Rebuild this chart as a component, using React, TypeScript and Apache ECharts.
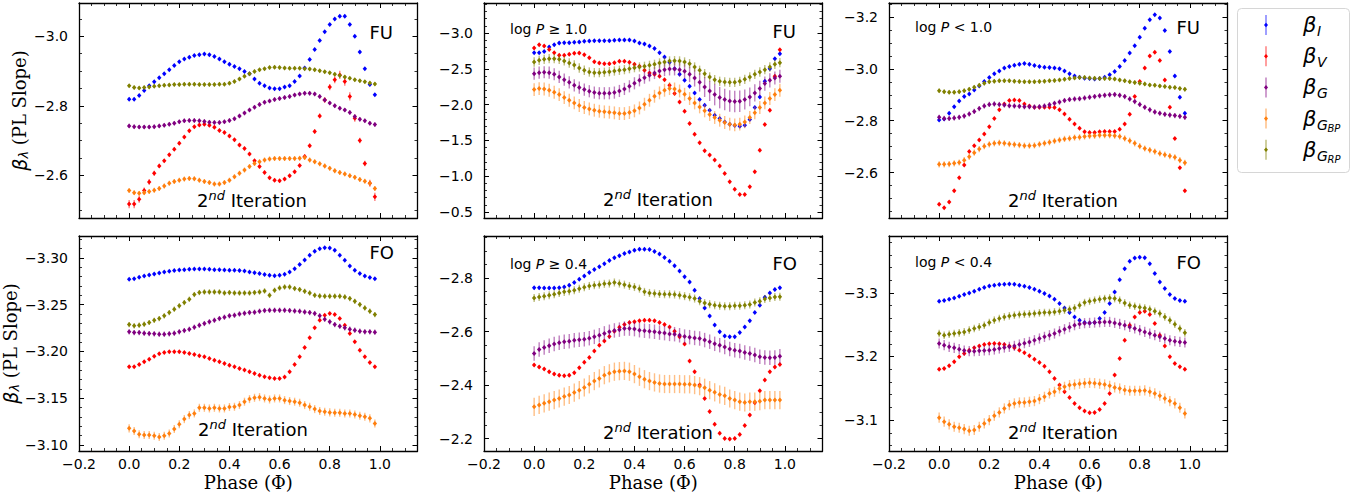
import React, { useEffect, useRef } from 'react';
import * as echarts from 'echarts';

// ---------------- data ----------------
const phase = [0, 0.02, 0.04, 0.06, 0.08, 0.1, 0.12, 0.14, 0.16, 0.18, 0.2, 0.22, 0.24, 0.26, 0.28, 0.3, 0.32, 0.34, 0.36, 0.38, 0.4, 0.42, 0.44, 0.46, 0.48, 0.5, 0.52, 0.54, 0.56, 0.58, 0.6, 0.62, 0.64, 0.66, 0.68, 0.7, 0.72, 0.74, 0.76, 0.78, 0.8, 0.82, 0.84, 0.86, 0.88, 0.9, 0.92, 0.94, 0.96, 0.98];

const seriesNames = ['β_I', 'β_V', 'β_G', 'β_G_BP', 'β_G_RP'];
const seriesColors = ['#0000ff', '#ff0000', '#800080', '#ff7f0e', '#808000'];
const legendSub = ['I', 'V', 'G', 'G', 'G'];
const legendSubSub = ['', '', '', 'BP', 'RP'];

// FU, all periods
const fuAllI = [-2.819, -2.819, -2.830, -2.844, -2.858, -2.869, -2.881, -2.892, -2.904, -2.916, -2.927, -2.935, -2.940, -2.945, -2.947, -2.949, -2.947, -2.942, -2.935, -2.927, -2.920, -2.913, -2.907, -2.899, -2.892, -2.877, -2.865, -2.858, -2.851, -2.849, -2.849, -2.854, -2.858, -2.870, -2.886, -2.909, -2.933, -2.962, -2.988, -3.013, -3.034, -3.050, -3.058, -3.058, -3.034, -3.000, -2.955, -2.907, -2.861, -2.832];
const fuAllV = [-2.517, -2.517, -2.531, -2.556, -2.581, -2.606, -2.627, -2.642, -2.659, -2.675, -2.692, -2.710, -2.728, -2.740, -2.745, -2.747, -2.744, -2.738, -2.729, -2.723, -2.713, -2.702, -2.687, -2.677, -2.661, -2.642, -2.625, -2.608, -2.593, -2.586, -2.584, -2.589, -2.599, -2.610, -2.628, -2.654, -2.685, -2.726, -2.771, -2.817, -2.854, -2.875, -2.889, -2.870, -2.827, -2.764, -2.700, -2.634, -2.577, -2.538];
const fuAllG = [-2.742, -2.740, -2.739, -2.739, -2.739, -2.740, -2.742, -2.744, -2.747, -2.750, -2.754, -2.757, -2.758, -2.758, -2.757, -2.755, -2.753, -2.752, -2.752, -2.754, -2.758, -2.763, -2.771, -2.779, -2.788, -2.796, -2.804, -2.810, -2.814, -2.818, -2.821, -2.824, -2.827, -2.831, -2.834, -2.836, -2.836, -2.834, -2.827, -2.817, -2.808, -2.800, -2.793, -2.788, -2.781, -2.769, -2.761, -2.757, -2.750, -2.746];
const fuAllBP = [-2.556, -2.550, -2.548, -2.550, -2.553, -2.557, -2.562, -2.569, -2.577, -2.582, -2.586, -2.589, -2.591, -2.590, -2.586, -2.582, -2.579, -2.575, -2.575, -2.579, -2.586, -2.596, -2.606, -2.615, -2.625, -2.634, -2.639, -2.644, -2.647, -2.648, -2.648, -2.648, -2.648, -2.648, -2.649, -2.651, -2.644, -2.639, -2.633, -2.627, -2.620, -2.613, -2.608, -2.604, -2.599, -2.594, -2.588, -2.583, -2.577, -2.562];
const fuAllRP = [-2.858, -2.853, -2.851, -2.853, -2.854, -2.856, -2.858, -2.859, -2.860, -2.861, -2.861, -2.862, -2.862, -2.862, -2.861, -2.861, -2.861, -2.861, -2.862, -2.862, -2.865, -2.870, -2.877, -2.885, -2.892, -2.899, -2.904, -2.907, -2.910, -2.911, -2.910, -2.909, -2.908, -2.908, -2.908, -2.907, -2.906, -2.904, -2.901, -2.898, -2.895, -2.891, -2.887, -2.883, -2.879, -2.875, -2.872, -2.869, -2.866, -2.863];
const fuAllVErr = [0.012, 0.012, 0.010, 0.009, 0.008, 0.007, 0.006, 0.005, 0.005, 0.005, 0.005, 0.005, 0.005, 0.005, 0.005, 0.005, 0.005, 0.005, 0.005, 0.005, 0.005, 0.005, 0.005, 0.005, 0.005, 0.005, 0.005, 0.005, 0.005, 0.005, 0.005, 0.005, 0.005, 0.005, 0.005, 0.006, 0.006, 0.006, 0.007, 0.008, 0.009, 0.010, 0.012, 0.012, 0.012, 0.010, 0.008, 0.008, 0.010, 0.012];
const fuAllErr: (number | number[])[] = [0.004, fuAllVErr, 0.006, 0.007, 0.005];

// FU, log P >= 1.0
const fuLongI = [-2.726, -2.726, -2.744, -2.805, -2.837, -2.861, -2.865, -2.865, -2.870, -2.875, -2.884, -2.888, -2.893, -2.893, -2.893, -2.893, -2.898, -2.902, -2.902, -2.902, -2.888, -2.861, -2.847, -2.819, -2.784, -2.726, -2.665, -2.591, -2.503, -2.424, -2.340, -2.256, -2.164, -2.071, -1.992, -1.922, -1.852, -1.806, -1.759, -1.727, -1.708, -1.699, -1.713, -1.792, -1.959, -2.108, -2.326, -2.503, -2.642, -2.712];
const fuLongV = [-2.791, -2.837, -2.819, -2.772, -2.726, -2.689, -2.689, -2.703, -2.717, -2.721, -2.698, -2.656, -2.600, -2.582, -2.572, -2.572, -2.586, -2.605, -2.605, -2.591, -2.563, -2.535, -2.480, -2.442, -2.424, -2.396, -2.349, -2.270, -2.154, -2.038, -1.908, -1.736, -1.587, -1.467, -1.355, -1.295, -1.225, -1.141, -1.039, -0.923, -0.816, -0.746, -0.746, -0.853, -1.062, -1.364, -1.722, -1.922, -2.396, -2.768];
const fuLongG = [-2.433, -2.447, -2.452, -2.447, -2.424, -2.387, -2.349, -2.312, -2.270, -2.238, -2.210, -2.187, -2.168, -2.159, -2.159, -2.159, -2.168, -2.191, -2.219, -2.256, -2.298, -2.340, -2.377, -2.410, -2.442, -2.470, -2.489, -2.498, -2.498, -2.489, -2.466, -2.424, -2.373, -2.312, -2.247, -2.191, -2.140, -2.098, -2.071, -2.052, -2.043, -2.047, -2.071, -2.108, -2.164, -2.224, -2.294, -2.340, -2.373, -2.396];
const fuLongBP = [-2.210, -2.224, -2.219, -2.201, -2.173, -2.140, -2.098, -2.061, -2.024, -1.987, -1.959, -1.940, -1.922, -1.908, -1.899, -1.894, -1.885, -1.875, -1.875, -1.889, -1.913, -1.954, -2.006, -2.061, -2.117, -2.164, -2.201, -2.224, -2.219, -2.191, -2.145, -2.085, -2.024, -1.968, -1.913, -1.862, -1.820, -1.782, -1.750, -1.727, -1.717, -1.727, -1.759, -1.820, -1.885, -1.959, -2.024, -2.085, -2.140, -2.201];
const fuLongRP = [-2.596, -2.619, -2.633, -2.642, -2.642, -2.633, -2.610, -2.582, -2.554, -2.512, -2.480, -2.456, -2.447, -2.447, -2.452, -2.461, -2.470, -2.480, -2.489, -2.503, -2.517, -2.526, -2.535, -2.549, -2.563, -2.582, -2.596, -2.610, -2.614, -2.610, -2.596, -2.572, -2.526, -2.480, -2.433, -2.387, -2.349, -2.326, -2.317, -2.312, -2.312, -2.326, -2.354, -2.387, -2.424, -2.456, -2.489, -2.526, -2.563, -2.586];
const fuLongGErr = [0.085, 0.085, 0.085, 0.085, 0.085, 0.085, 0.085, 0.085, 0.085, 0.085, 0.085, 0.085, 0.085, 0.085, 0.085, 0.085, 0.085, 0.085, 0.085, 0.085, 0.085, 0.085, 0.085, 0.085, 0.085, 0.085, 0.09, 0.09, 0.09, 0.095, 0.10, 0.11, 0.12, 0.13, 0.14, 0.14, 0.15, 0.15, 0.15, 0.15, 0.15, 0.15, 0.14, 0.13, 0.12, 0.11, 0.10, 0.10, 0.09, 0.09];
const fuLongErr: (number | number[])[] = [0.02, 0.02, fuLongGErr, 0.09, 0.065];

// FU, log P < 1.0
const fuShortI = [-2.803, -2.807, -2.829, -2.854, -2.876, -2.893, -2.903, -2.919, -2.934, -2.951, -2.967, -2.981, -2.992, -3.003, -3.009, -3.014, -3.018, -3.021, -3.018, -3.013, -3.009, -3.006, -3.005, -3.003, -3.000, -2.992, -2.981, -2.973, -2.968, -2.964, -2.963, -2.961, -2.963, -2.968, -2.977, -2.990, -3.009, -3.032, -3.061, -3.089, -3.122, -3.157, -3.189, -3.209, -3.196, -3.148, -3.067, -2.973, -2.891, -2.829];
const fuShortV = [-2.478, -2.465, -2.487, -2.530, -2.580, -2.629, -2.681, -2.704, -2.726, -2.749, -2.777, -2.809, -2.842, -2.865, -2.878, -2.880, -2.878, -2.865, -2.857, -2.852, -2.852, -2.852, -2.852, -2.851, -2.842, -2.826, -2.806, -2.787, -2.771, -2.758, -2.755, -2.755, -2.758, -2.759, -2.759, -2.759, -2.767, -2.787, -2.825, -2.893, -2.951, -3.003, -3.050, -3.064, -3.032, -2.957, -2.852, -2.732, -2.619, -2.530];
const fuShortG = [-2.813, -2.809, -2.809, -2.811, -2.813, -2.818, -2.826, -2.836, -2.847, -2.857, -2.863, -2.865, -2.863, -2.861, -2.858, -2.857, -2.856, -2.854, -2.854, -2.853, -2.854, -2.857, -2.862, -2.867, -2.872, -2.878, -2.882, -2.884, -2.885, -2.888, -2.891, -2.893, -2.896, -2.898, -2.900, -2.901, -2.898, -2.893, -2.884, -2.874, -2.863, -2.852, -2.842, -2.834, -2.829, -2.825, -2.822, -2.820, -2.817, -2.813];
const fuShortBP = [-2.632, -2.632, -2.633, -2.636, -2.639, -2.648, -2.661, -2.677, -2.691, -2.702, -2.709, -2.713, -2.715, -2.713, -2.710, -2.708, -2.706, -2.704, -2.704, -2.705, -2.709, -2.713, -2.717, -2.722, -2.726, -2.730, -2.732, -2.735, -2.736, -2.739, -2.741, -2.742, -2.744, -2.744, -2.744, -2.742, -2.739, -2.732, -2.723, -2.713, -2.702, -2.693, -2.687, -2.681, -2.674, -2.669, -2.664, -2.659, -2.648, -2.638];
const fuShortRP = [-2.916, -2.912, -2.910, -2.910, -2.912, -2.916, -2.921, -2.929, -2.937, -2.945, -2.950, -2.952, -2.954, -2.954, -2.954, -2.952, -2.951, -2.950, -2.950, -2.950, -2.951, -2.952, -2.954, -2.955, -2.957, -2.960, -2.963, -2.965, -2.967, -2.967, -2.965, -2.964, -2.963, -2.963, -2.963, -2.961, -2.957, -2.954, -2.950, -2.947, -2.945, -2.942, -2.938, -2.937, -2.934, -2.932, -2.929, -2.928, -2.924, -2.921];
const fuShortErr: (number | number[])[] = [0.005, 0.005, 0.010, 0.012, 0.008];

// FO, all periods
const foAllI = [-3.2772, -3.2779, -3.2794, -3.2808, -3.2819, -3.2829, -3.2840, -3.2851, -3.2858, -3.2865, -3.2872, -3.2875, -3.2879, -3.2883, -3.2883, -3.2883, -3.2879, -3.2875, -3.2875, -3.2872, -3.2868, -3.2868, -3.2865, -3.2861, -3.2851, -3.2843, -3.2833, -3.2822, -3.2815, -3.2811, -3.2815, -3.2826, -3.2851, -3.2886, -3.2929, -3.2979, -3.3028, -3.3071, -3.3100, -3.3110, -3.3107, -3.3082, -3.3028, -3.2975, -3.2915, -3.2868, -3.2833, -3.2808, -3.2790, -3.2779];
const foAllV = [-3.1836, -3.1836, -3.1861, -3.1890, -3.1918, -3.1950, -3.1975, -3.1989, -3.1996, -3.1996, -3.1996, -3.1989, -3.1979, -3.1968, -3.1954, -3.1943, -3.1925, -3.1907, -3.1890, -3.1872, -3.1854, -3.1836, -3.1818, -3.1801, -3.1783, -3.1765, -3.1747, -3.1729, -3.1719, -3.1712, -3.1712, -3.1726, -3.1783, -3.1861, -3.1943, -3.2043, -3.2146, -3.2253, -3.2334, -3.2388, -3.2406, -3.2395, -3.2352, -3.2281, -3.2192, -3.2103, -3.2014, -3.1943, -3.1882, -3.1836];
const foAllG = [-3.2210, -3.2203, -3.2203, -3.2196, -3.2192, -3.2189, -3.2185, -3.2185, -3.2189, -3.2196, -3.2210, -3.2224, -3.2238, -3.2260, -3.2281, -3.2299, -3.2317, -3.2334, -3.2352, -3.2367, -3.2381, -3.2388, -3.2402, -3.2409, -3.2416, -3.2420, -3.2431, -3.2438, -3.2441, -3.2441, -3.2441, -3.2441, -3.2438, -3.2434, -3.2431, -3.2423, -3.2416, -3.2406, -3.2381, -3.2345, -3.2317, -3.2288, -3.2270, -3.2253, -3.2238, -3.2228, -3.2217, -3.2210, -3.2210, -3.2206];
const foAllBP = [-3.1178, -3.1149, -3.1114, -3.1107, -3.1107, -3.1099, -3.1085, -3.1099, -3.1124, -3.1171, -3.1221, -3.1277, -3.1320, -3.1338, -3.1398, -3.1398, -3.1391, -3.1398, -3.1391, -3.1391, -3.1406, -3.1409, -3.1427, -3.1463, -3.1491, -3.1505, -3.1512, -3.1498, -3.1487, -3.1498, -3.1498, -3.1480, -3.1470, -3.1463, -3.1452, -3.1427, -3.1409, -3.1384, -3.1363, -3.1356, -3.1349, -3.1345, -3.1345, -3.1338, -3.1338, -3.1327, -3.1313, -3.1302, -3.1285, -3.1231];
const foAllRP = [-3.2288, -3.2274, -3.2281, -3.2292, -3.2310, -3.2334, -3.2352, -3.2381, -3.2416, -3.2452, -3.2488, -3.2523, -3.2559, -3.2609, -3.2630, -3.2637, -3.2637, -3.2637, -3.2637, -3.2626, -3.2630, -3.2626, -3.2626, -3.2626, -3.2626, -3.2630, -3.2637, -3.2648, -3.2601, -3.2655, -3.2680, -3.2690, -3.2690, -3.2673, -3.2662, -3.2644, -3.2626, -3.2601, -3.2594, -3.2591, -3.2591, -3.2591, -3.2591, -3.2584, -3.2566, -3.2537, -3.2502, -3.2466, -3.2431, -3.2395];
const foAllErr: (number | number[])[] = [0.001, 0.001, 0.0028, 0.0043, 0.0028];

// FO, log P >= 0.4
const foLongI = [-2.763, -2.763, -2.762, -2.762, -2.762, -2.763, -2.766, -2.773, -2.783, -2.795, -2.807, -2.820, -2.831, -2.842, -2.853, -2.865, -2.875, -2.883, -2.891, -2.897, -2.903, -2.907, -2.907, -2.906, -2.899, -2.889, -2.876, -2.862, -2.845, -2.826, -2.804, -2.785, -2.754, -2.723, -2.688, -2.658, -2.624, -2.599, -2.583, -2.580, -2.580, -2.596, -2.617, -2.640, -2.671, -2.698, -2.728, -2.744, -2.757, -2.763];
const foLongV = [-2.475, -2.468, -2.460, -2.450, -2.441, -2.437, -2.435, -2.437, -2.446, -2.465, -2.485, -2.503, -2.527, -2.549, -2.565, -2.581, -2.601, -2.616, -2.626, -2.634, -2.636, -2.640, -2.642, -2.642, -2.640, -2.634, -2.626, -2.617, -2.601, -2.580, -2.553, -2.490, -2.450, -2.400, -2.350, -2.301, -2.254, -2.220, -2.201, -2.199, -2.201, -2.216, -2.249, -2.288, -2.334, -2.379, -2.419, -2.450, -2.468, -2.477];
const foLongG = [-2.518, -2.533, -2.540, -2.547, -2.553, -2.558, -2.562, -2.564, -2.567, -2.569, -2.571, -2.575, -2.580, -2.586, -2.593, -2.599, -2.604, -2.607, -2.611, -2.611, -2.609, -2.605, -2.603, -2.601, -2.599, -2.596, -2.594, -2.591, -2.590, -2.586, -2.581, -2.579, -2.576, -2.574, -2.568, -2.562, -2.554, -2.549, -2.542, -2.535, -2.530, -2.527, -2.522, -2.518, -2.512, -2.506, -2.503, -2.502, -2.503, -2.508];
const foLongBP = [-2.319, -2.326, -2.332, -2.338, -2.344, -2.350, -2.357, -2.363, -2.372, -2.381, -2.391, -2.403, -2.415, -2.425, -2.437, -2.444, -2.450, -2.452, -2.453, -2.450, -2.441, -2.431, -2.422, -2.415, -2.410, -2.406, -2.404, -2.404, -2.404, -2.404, -2.403, -2.403, -2.400, -2.396, -2.390, -2.381, -2.373, -2.365, -2.360, -2.350, -2.344, -2.338, -2.335, -2.338, -2.338, -2.340, -2.344, -2.344, -2.344, -2.344];
const foLongRP = [-2.725, -2.729, -2.732, -2.735, -2.739, -2.744, -2.748, -2.750, -2.754, -2.760, -2.765, -2.770, -2.773, -2.775, -2.778, -2.779, -2.783, -2.779, -2.775, -2.770, -2.766, -2.760, -2.748, -2.744, -2.742, -2.740, -2.739, -2.739, -2.738, -2.735, -2.732, -2.728, -2.723, -2.713, -2.706, -2.702, -2.698, -2.696, -2.694, -2.694, -2.696, -2.696, -2.698, -2.701, -2.708, -2.713, -2.721, -2.725, -2.729, -2.730];
const foLongErr: (number | number[])[] = [0.006, 0.006, 0.027, 0.034, 0.015];

// FO, log P < 0.4
const foShortI = [-3.2869, -3.2880, -3.2901, -3.2921, -3.2948, -3.2974, -3.3000, -3.3026, -3.3058, -3.3084, -3.3110, -3.3120, -3.3131, -3.3136, -3.3141, -3.3136, -3.3120, -3.3105, -3.3084, -3.3058, -3.3026, -3.2990, -3.2953, -3.2901, -3.2832, -3.2764, -3.2691, -3.2623, -3.2571, -3.2534, -3.2529, -3.2534, -3.2597, -3.2691, -3.2832, -3.3016, -3.3209, -3.3382, -3.3497, -3.3550, -3.3560, -3.3555, -3.3461, -3.3304, -3.3173, -3.3068, -3.2974, -3.2911, -3.2880, -3.2869];
const foShortV = [-3.1801, -3.1811, -3.1853, -3.1916, -3.1995, -3.2047, -3.2099, -3.2136, -3.2167, -3.2188, -3.2199, -3.2204, -3.2199, -3.2188, -3.2167, -3.2136, -3.2099, -3.2058, -3.2010, -3.1958, -3.1906, -3.1848, -3.1759, -3.1654, -3.1550, -3.1445, -3.1356, -3.1262, -3.1194, -3.1141, -3.1115, -3.1120, -3.1167, -3.1262, -3.1419, -3.1707, -3.1968, -3.2256, -3.2492, -3.2623, -3.2691, -3.2712, -3.2660, -3.2518, -3.2335, -3.2167, -3.1995, -3.1890, -3.1838, -3.1801];
const foShortG = [-3.2204, -3.2178, -3.2152, -3.2136, -3.2115, -3.2094, -3.2084, -3.2084, -3.2089, -3.2094, -3.2099, -3.2110, -3.2126, -3.2141, -3.2152, -3.2167, -3.2188, -3.2209, -3.2230, -3.2256, -3.2283, -3.2309, -3.2335, -3.2361, -3.2398, -3.2429, -3.2461, -3.2492, -3.2513, -3.2524, -3.2529, -3.2534, -3.2539, -3.2544, -3.2544, -3.2529, -3.2513, -3.2492, -3.2466, -3.2440, -3.2414, -3.2387, -3.2361, -3.2335, -3.2309, -3.2283, -3.2256, -3.2241, -3.2230, -3.2220];
const foShortBP = [-3.1037, -3.0974, -3.0932, -3.0895, -3.0879, -3.0858, -3.0832, -3.0843, -3.0895, -3.0947, -3.1000, -3.1068, -3.1120, -3.1183, -3.1235, -3.1262, -3.1277, -3.1277, -3.1288, -3.1298, -3.1330, -3.1366, -3.1419, -3.1445, -3.1497, -3.1523, -3.1550, -3.1560, -3.1571, -3.1581, -3.1586, -3.1581, -3.1571, -3.1560, -3.1539, -3.1513, -3.1497, -3.1471, -3.1461, -3.1461, -3.1461, -3.1466, -3.1445, -3.1419, -3.1382, -3.1340, -3.1298, -3.1262, -3.1194, -3.1105];
const foShortRP = [-3.2361, -3.2335, -3.2351, -3.2361, -3.2372, -3.2387, -3.2414, -3.2440, -3.2466, -3.2492, -3.2534, -3.2571, -3.2597, -3.2623, -3.2639, -3.2649, -3.2660, -3.2665, -3.2670, -3.2675, -3.2686, -3.2691, -3.2691, -3.2702, -3.2712, -3.2728, -3.2743, -3.2764, -3.2806, -3.2848, -3.2869, -3.2885, -3.2901, -3.2911, -3.2921, -3.2911, -3.2885, -3.2843, -3.2806, -3.2791, -3.2775, -3.2764, -3.2743, -3.2712, -3.2675, -3.2623, -3.2571, -3.2508, -3.2440, -3.2372];
const foShortErr: (number | number[])[] = [0.0015, 0.0015, 0.008, 0.008, 0.006];

// axis ticks
const xTicks = [-0.2, 0, 0.2, 0.4, 0.6, 0.8, 1.0];
const yTicksFuAll = [-3.0, -2.8, -2.6];
const yTicksFuLong = [-3.0, -2.5, -2.0, -1.5, -1.0, -0.5];
const yTicksFuShort = [-3.2, -3.0, -2.8, -2.6];
const yTicksFoAll = [-3.3, -3.25, -3.2, -3.15, -3.1];
const yTicksFoLong = [-2.8, -2.6, -2.4, -2.2];
const yTicksFoShort = [-3.3, -3.2, -3.1];

// ---------------- layout / styling ----------------
const W = 1371, H = 496;
const colLeft = [79, 484, 889];
const rowTop = [3, 236];
const PW = 338.5, PH = 215;
const X_MIN = -0.2, X_MAX = 1.15;

interface Panel {
  series: number[][]; err: (number | number[])[]; yMin: number; yMax: number; yTicks: number[];
  minorStep: number; dec: number; mode: string; modePos: number[]; iterPos: number[];
  cut?: string; cutPos?: number[];
}

const panels: Panel[] = [
  { series: [fuAllI, fuAllV, fuAllG, fuAllBP, fuAllRP], err: fuAllErr, yMin: -3.096, yMax: -2.477, yTicks: yTicksFuAll, minorStep: 0.05, dec: 1, mode: 'FU', modePos: [393, 32], iterPos: [197, 200] },
  { series: [fuLongI, fuLongV, fuLongG, fuLongBP, fuLongRP], err: fuLongErr, yMin: -3.42, yMax: -0.416, yTicks: yTicksFuLong, minorStep: 0.1, dec: 1, mode: 'FU', modePos: [796, 31], iterPos: [603, 199], cut: '1.0', cutPos: [510, 29] },
  { series: [fuShortI, fuShortV, fuShortG, fuShortBP, fuShortRP], err: fuShortErr, yMin: -3.254, yMax: -2.425, yTicks: yTicksFuShort, minorStep: 0.05, dec: 1, mode: 'FU', modePos: [1200, 27], iterPos: [1008, 200], cut: '1.0', cutPos: [915, 27] },
  { series: [foAllI, foAllV, foAllG, foAllBP, foAllRP], err: foAllErr, yMin: -3.3235, yMax: -3.0936, yTicks: yTicksFoAll, minorStep: 0.01, dec: 2, mode: 'FO', modePos: [394, 252], iterPos: [198, 429] },
  { series: [foLongI, foLongV, foLongG, foLongBP, foLongRP], err: foLongErr, yMin: -2.9565, yMax: -2.154, yTicks: yTicksFoLong, minorStep: 0.05, dec: 1, mode: 'FO', modePos: [797, 263], iterPos: [603, 432], cut: '0.4', cutPos: [510, 264] },
  { series: [foShortI, foShortV, foShortG, foShortBP, foShortRP], err: foShortErr, yMin: -3.3896, yMax: -3.0513, yTicks: yTicksFoShort, minorStep: 0.02, dec: 1, mode: 'FO', modePos: [1201, 262], iterPos: [1008, 432], cut: '0.4', cutPos: [915, 262] },
];

function minorTicks(lo: number, hi: number, step: number, majors: number[]): number[] {
  const out: number[] = [];
  const a = Math.min(lo, hi), b = Math.max(lo, hi);
  const start = Math.ceil(a / step - 1e-9);
  const end = Math.floor(b / step + 1e-9);
  for (let k = start; k <= end; k++) {
    const v = +(k * step).toFixed(6);
    if (!majors.some((m) => Math.abs(m - v) < step / 10)) out.push(v);
  }
  return out;
}

function rgba(hex: string, a: number) {
  const n = parseInt(hex.slice(1), 16);
  return `rgba(${(n >> 16) & 255},${(n >> 8) & 255},${n & 255},${a})`;
}

const fmt = (d: number) => (v: number) => v.toFixed(d).replace('-', '\u2212');
const TICK_FONT = 'DejaVu Sans';
const TICK_SIZE = 14;
const SERIF = 'DejaVu Serif';
const LINE = { color: '#000', width: 1.3 };

function buildOption() {
  const grid: any[] = [];
  const xAxis: any[] = [];
  const yAxis: any[] = [];
  const series: any[] = [];
  const graphic: any[] = [];
  const xMinor = minorTicks(X_MIN, X_MAX, 0.05, xTicks);

  panels.forEach((p, g) => {
    const row = Math.floor(g / 3), col = g % 3;
    grid.push({ left: colLeft[col], top: rowTop[row], width: PW, height: PH, show: false });
    const bottomRow = row === 1;
    const yMinor = minorTicks(p.yMin, p.yMax, p.minorStep, p.yTicks);

    const xBase = { gridIndex: g, type: 'value', min: X_MIN, max: X_MAX, splitLine: { show: false } };
    xAxis.push({
      ...xBase, position: 'bottom',
      axisLine: { show: true, onZero: false, lineStyle: LINE },
      axisTick: { show: true, inside: true, length: 5, customValues: xTicks, lineStyle: { color: '#000', width: 1 } },
      axisLabel: { show: bottomRow, customValues: xTicks, formatter: fmt(1), margin: 6, color: '#000', fontSize: TICK_SIZE, fontFamily: TICK_FONT },
      name: bottomRow ? 'Phase (\u03A6)' : '', nameLocation: 'middle', nameGap: 22,
      nameTextStyle: { fontFamily: SERIF, fontSize: 18, color: '#000' },
    });
    xAxis.push({ ...xBase, position: 'bottom', axisLine: { show: false, onZero: false },
      axisTick: { show: true, inside: true, length: 3, customValues: xMinor, lineStyle: { color: '#000', width: 0.8 } }, axisLabel: { show: false } });
    xAxis.push({ ...xBase, position: 'top', axisLine: { show: true, onZero: false, lineStyle: LINE },
      axisTick: { show: true, inside: true, length: 5, customValues: xTicks, lineStyle: { color: '#000', width: 1 } }, axisLabel: { show: false } });
    xAxis.push({ ...xBase, position: 'top', axisLine: { show: false, onZero: false },
      axisTick: { show: true, inside: true, length: 3, customValues: xMinor, lineStyle: { color: '#000', width: 0.8 } }, axisLabel: { show: false } });

    const yBase = { gridIndex: g, type: 'value', min: p.yMin, max: p.yMax, inverse: true, splitLine: { show: false } };
    yAxis.push({
      ...yBase, position: 'left',
      axisLine: { show: true, onZero: false, lineStyle: LINE },
      axisTick: { show: true, inside: true, length: 5, customValues: p.yTicks, lineStyle: { color: '#000', width: 1 } },
      axisLabel: { show: true, customValues: p.yTicks, formatter: fmt(p.dec), margin: 11, color: '#000', fontSize: TICK_SIZE, fontFamily: TICK_FONT },
      name: col === 0 ? '{b|\u03B2}{s|\u03BB}{t| (PL Slope)}' : '', nameLocation: 'middle', nameGap: 45,
      nameTextStyle: {
        color: '#000',
        rich: {
          b: { fontFamily: TICK_FONT, fontStyle: 'italic', fontSize: 19, color: '#000' },
          s: { fontFamily: TICK_FONT, fontStyle: 'italic', fontSize: 13, color: '#000', padding: [8, 0, 0, 0] },
          t: { fontFamily: SERIF, fontSize: 18, color: '#000' },
        },
      },
    });
    yAxis.push({ ...yBase, position: 'left', axisLine: { show: false, onZero: false },
      axisTick: { show: true, inside: true, length: 3, customValues: yMinor, lineStyle: { color: '#000', width: 0.8 } }, axisLabel: { show: false } });
    yAxis.push({ ...yBase, position: 'right', axisLine: { show: true, onZero: false, lineStyle: LINE },
      axisTick: { show: true, inside: true, length: 5, customValues: p.yTicks, lineStyle: { color: '#000', width: 1 } }, axisLabel: { show: false } });
    yAxis.push({ ...yBase, position: 'right', axisLine: { show: false, onZero: false },
      axisTick: { show: true, inside: true, length: 3, customValues: yMinor, lineStyle: { color: '#000', width: 0.8 } }, axisLabel: { show: false } });

    p.series.forEach((vals, si) => {
      const color = seriesColors[si];
      const e = p.err[si];
      series.push({
        type: 'custom',
        name: seriesNames[si],
        xAxisIndex: g * 4,
        yAxisIndex: g * 4,
        z: 2 + si,
        clip: true,
        encode: { x: 0, y: 1 },
        data: phase.map((x, i) => [x, vals[i], Array.isArray(e) ? e[i] : e]),
        renderItem: (params: any, api: any) => {
          const x = api.value(0), y = api.value(1), er = api.value(2);
          const c = api.coord([x, y]);
          const t = api.coord([x, y - er]);
          const b = api.coord([x, y + er]);
          return {
            type: 'group',
            children: [
              { type: 'line', shape: { x1: c[0], y1: t[1], x2: c[0], y2: b[1] }, style: { stroke: rgba(color, 0.5), lineWidth: 1.4 } },
              { type: 'polygon', shape: { points: [[c[0] - 2.2, c[1]], [c[0], c[1] - 2.5], [c[0] + 2.2, c[1]], [c[0], c[1] + 2.5]] }, style: { fill: color } },
            ],
          };
        },
      });
    });

    // annotations
    graphic.push({ type: 'text', x: p.modePos[0], y: p.modePos[1], z: 50,
      style: { text: p.mode, fontFamily: TICK_FONT, fontSize: 18, fill: '#000', textAlign: 'right', textVerticalAlign: 'middle' } });
    graphic.push({ type: 'text', x: p.iterPos[0], y: p.iterPos[1], z: 50,
      style: {
        text: '{a|2}{b|nd}{a| Iteration}', textAlign: 'left', textVerticalAlign: 'middle',
        rich: {
          a: { fontFamily: TICK_FONT, fontSize: 18, fill: '#000', color: '#000', lineHeight: 22 },
          b: { fontFamily: TICK_FONT, fontSize: 13, fontStyle: 'italic', fill: '#000', color: '#000', lineHeight: 22, verticalAlign: 'top' },
        },
      } });
    if (p.cut) {
      const sym = g % 3 === 1 ? '\u2265' : '<';
      graphic.push({ type: 'text', x: p.cutPos![0], y: p.cutPos![1], z: 50,
        style: {
          text: `{a|log }{i|P}{a| ${sym} ${p.cut}}`, textAlign: 'left', textVerticalAlign: 'middle',
          rich: {
            a: { fontFamily: TICK_FONT, fontSize: 14, fill: '#000', color: '#000' },
            i: { fontFamily: TICK_FONT, fontSize: 14, fontStyle: 'italic', fill: '#000', color: '#000' },
          },
        } });
    }
  });

  // legend (drawn as graphic)
  graphic.push({ type: 'rect', shape: { x: 1237.5, y: 8.5, width: 112, height: 164, r: 4 }, z: 40,
    style: { fill: '#fff', stroke: '#d6d6d6', lineWidth: 1 } });
  seriesColors.forEach((color, i) => {
    const cy = 25 + i * 31.2;
    graphic.push({ type: 'line', shape: { x1: 1266, y1: cy - 10, x2: 1266, y2: cy + 10 }, z: 41, style: { stroke: rgba(color, 0.5), lineWidth: 1.5 } });
    graphic.push({ type: 'polygon', shape: { points: [[1264, cy], [1266, cy - 2.3], [1268, cy], [1266, cy + 2.3]] }, z: 42, style: { fill: color } });
    graphic.push({ type: 'text', x: 1303, y: cy, z: 42, style: { text: '\u03B2', fontFamily: TICK_FONT, fontStyle: 'italic', fontSize: 21, fill: '#000', textAlign: 'left', textVerticalAlign: 'middle' } });
    graphic.push({ type: 'text', x: 1317, y: cy + 6, z: 42, style: { text: legendSub[i], fontFamily: TICK_FONT, fontStyle: 'italic', fontSize: 14, fill: '#000', textAlign: 'left', textVerticalAlign: 'middle' } });
    if (legendSubSub[i]) {
      graphic.push({ type: 'text', x: 1327.5, y: cy + 10, z: 42, style: { text: legendSubSub[i], fontFamily: TICK_FONT, fontStyle: 'italic', fontSize: 10, fill: '#000', textAlign: 'left', textVerticalAlign: 'middle' } });
    }
  });

  return { animation: false, backgroundColor: '#fff', grid, xAxis, yAxis, series, graphic };
}

export default function App() {
  const ref = useRef<HTMLDivElement>(null);
  useEffect(() => {
    if (!ref.current) return;
    const chart = echarts.init(ref.current, undefined, { renderer: 'svg' });
    chart.setOption(buildOption() as any);
    return () => chart.dispose();
  }, []);
  return <div ref={ref} style={{ position: 'absolute', left: 0, top: 0, width: W, height: H, background: '#fff' }} />;
}
